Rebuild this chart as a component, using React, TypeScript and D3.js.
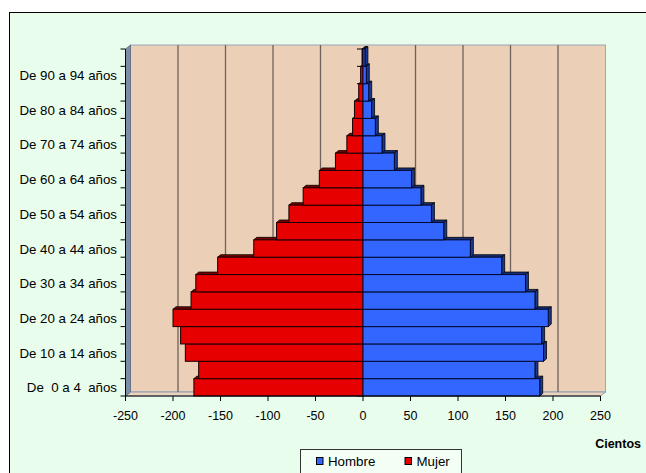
import React from "react";
import * as d3 from "d3";

const categories = [
  "De  0 a 4  años", "De 5 a 9 años", "De 10 a 14 años", "De 15 a 19 años",
  "De 20 a 24 años", "De 25 a 29 años", "De 30 a 34 años", "De 35 a 39 años",
  "De 40 a 44 años", "De 45 a 49 años", "De 50 a 54 años", "De 55 a 59 años",
  "De 60 a 64 años", "De 65 a 69 años", "De 70 a 74 años", "De 75 a 79 años",
  "De 80 a 84 años", "De 85 a 89 años", "De 90 a 94 años", "De 95 a 99 años",
];
const shownLabels = [
  "De  0 a 4  años", "De 10 a 14 años", "De 20 a 24 años", "De 30 a 34 años",
  "De 40 a 44 años", "De 50 a 54 años", "De 60 a 64 años", "De 70 a 74 años",
  "De 80 a 84 años", "De 90 a 94 años",
];
const hombre = [186, 181, 190, 188, 195, 181, 171, 146, 113, 85, 72, 61, 51, 33, 20, 13, 9, 6, 3.5, 2];
const mujer = [-178, -173, -187, -192, -200, -181, -176, -153, -115, -91, -78, -63, -46, -29, -17, -11, -9, -4.5, -2.5, -1];
const xTicks = [-250, -200, -150, -100, -50, 0, 50, 100, 150, 200, 250];
const gridTicks = [-200, -150, -100, -50, 50, 100, 150, 200];
const legendItems = [
  { name: "Hombre", color: "#3366FF" },
  { name: "Mujer", color: "#E60000" },
];

const FONT = "'Liberation Sans', Arial, sans-serif";

export default function App() {
  const x = d3.scaleLinear().domain([-250, 250]).range([125.5, 600.5]);
  const y = d3.scaleBand<string>().domain(categories).range([396, 49]).padding(0);
  const bw = y.bandwidth();
  const DX = 5, DY = -4; // wall depth
  const BDX = 3, BDY = -2.5; // bar depth
  const yTop = 49, yBot = 396;
  const x0 = x(0);

  const boundaries = d3.range(categories.length + 1).map((i) => yBot - i * bw);

  return (
    <svg width={646} height={473} style={{ position: "absolute", left: 0, top: 0 }}>
      <rect x={0} y={0} width={646} height={473} fill="#ffffff" />
      <rect x={9.5} y={12.5} width={660} height={480} fill="#E9FDEC" stroke="#000" strokeWidth={1} />

      {/* back wall */}
      <rect x={x(-250) + DX} y={yTop + DY} width={x(250) - x(-250)} height={yBot - yTop}
        fill="#EBCFB6" stroke="#98A8B8" strokeWidth={1} />
      {/* floor */}
      <polygon
        points={`${x(-250)},${yBot} ${x(250)},${yBot} ${x(250) + DX},${yBot + DY} ${x(-250) + DX},${yBot + DY}`}
        fill="#EDD3BC" stroke="#8C9CB2" strokeWidth={1} />
      {/* left wall */}
      <polygon
        points={`${x(-250)},${yTop} ${x(-250) + DX},${yTop + DY} ${x(-250) + DX},${yBot + DY} ${x(-250)},${yBot}`}
        fill="#7D8CA7" stroke="#5C6A82" strokeWidth={0.8} />

      {/* gridlines on back wall */}
      {gridTicks.map((t) => (
        <line key={t} x1={x(t) + DX} x2={x(t) + DX} y1={yTop + DY} y2={yBot + DY}
          stroke="#6E625C" strokeWidth={1.3} />
      ))}

      {/* left axis */}
      <line x1={x(-250)} x2={x(-250)} y1={yTop} y2={yBot} stroke="#000" strokeWidth={1} />
      {boundaries.map((b, i) => (
        <line key={"lt" + i} x1={x(-250) - 5} x2={x(-250)} y1={b} y2={b} stroke="#000" strokeWidth={1} />
      ))}
      {/* zero axis */}
      <line x1={x0} x2={x0} y1={yTop} y2={yBot} stroke="#000" strokeWidth={1.5} />
      {boundaries.map((b, i) => (
        <line key={"zt" + i} x1={x0 - 6} x2={x0} y1={b} y2={b} stroke="#000" strokeWidth={1} />
      ))}

      {/* bars, bottom first */}
      {categories.map((c, i) => {
        const top = y(c)!;
        const h = bw;
        const m = mujer[i];
        const hv = hombre[i];
        const rl = x(m), rr = x0;
        const bl = x0, br = x(hv);
        return (
          <g key={c}>
            <polygon points={`${rl},${top} ${rl + BDX},${top + BDY} ${rr + BDX},${top + BDY} ${rr},${top}`}
              fill="#7A0000" stroke="#000" strokeWidth={0.8} />
            <rect x={rl} y={top} width={rr - rl} height={h} fill="#E60000" stroke="#1a0000" strokeWidth={1} />
            <polygon points={`${bl},${top} ${bl + BDX},${top + BDY} ${br + BDX},${top + BDY} ${br},${top}`}
              fill="#17307A" stroke="#000" strokeWidth={0.8} />
            <polygon points={`${br},${top} ${br + BDX},${top + BDY} ${br + BDX},${top + h + BDY} ${br},${top + h}`}
              fill="#1C3890" stroke="#000" strokeWidth={0.8} />
            <rect x={bl} y={top} width={br - bl} height={h} fill="#3366FF" stroke="#000a30" strokeWidth={1} />
          </g>
        );
      })}

      {/* x axis */}
      <line x1={x(-250)} x2={x(250)} y1={yBot} y2={yBot} stroke="#000" strokeWidth={1} />
      {xTicks.map((t) => (
        <g key={t}>
          <line x1={x(t)} x2={x(t)} y1={yBot} y2={yBot + 5} stroke="#000" strokeWidth={1} />
          <text x={x(t)} y={yBot + 24} textAnchor="middle" fontFamily={FONT} fontSize={12.5} fill="#000">
            {t}
          </text>
        </g>
      ))}

      {/* category labels */}
      {shownLabels.map((l) => (
        <text key={l} x={117} y={y(l)! + bw / 2 + 5} textAnchor="end" fontFamily={FONT}
          fontSize={13.3} fill="#000" style={{ whiteSpace: "pre" }} xmlSpace="preserve">
          {l}
        </text>
      ))}

      {/* axis title */}
      <text x={641} y={448} textAnchor="end" fontFamily={FONT} fontSize={12.5} fontWeight="bold" fill="#000">Cientos</text>

      {/* legend */}
      <rect x={300.5} y={449.5} width={161} height={30} fill="#F3FFF5" stroke="#333" strokeWidth={1} />
      {legendItems.map((it, i) => {
        const lx = i === 0 ? 316 : 404.5;
        return (
          <g key={it.name}>
            <rect x={lx + 0.5} y={457.5} width={6.5} height={7} fill={it.color} stroke="#000" strokeWidth={1} />
            <text x={lx + 12} y={465.5} fontFamily={FONT} fontSize={13.3} fill="#000">{it.name}</text>
          </g>
        );
      })}
    </svg>
  );
}
